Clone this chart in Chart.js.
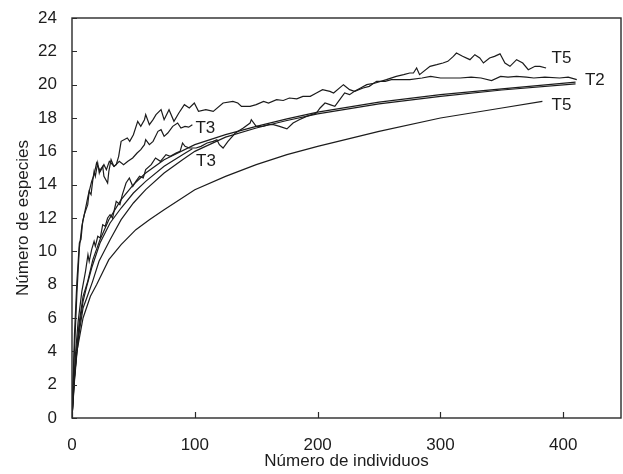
<!DOCTYPE html>
<html>
<head>
<meta charset="utf-8">
<script src="https://cdn.jsdelivr.net/npm/chart.js@4.4.1/dist/chart.umd.min.js"></script>
<style>
  html, body { margin: 0; padding: 0; background: #fff; }
  #wrap { width: 623px; height: 474px; position: relative; }
</style>
</head>
<body>
<div id="wrap"><canvas id="rarefactionChart"></canvas></div>
<script>
// Species accumulation curves (observed = jagged, expected = smooth)
// Each series is a list of [individuals, species] pairs read off the figure

const xTicks = [0, 100, 200, 300, 400];
const yTicks = [0, 2, 4, 6, 8, 10, 12, 14, 16, 18, 20, 22, 24];

// T5 observed (top jagged line)
const t5Observed = [
  [0,0],[1,2.5],[2,5],[4,8.2],[6,10.5],[7.3,10.7],[8.7,11.8],[10,12.2],[12.8,12.8],[14,13.6],
  [15.5,13.4],[16.8,14.2],[18,14.8],[19,14.5],[20.9,15.3],[22.2,14.7],[23,14.9],[25,15.1],[26,14.5],
  [29,14.1],[30,14.8],[31.8,15.5],[34,15.1],[36,15.2],[38,15.7],[40,16.6],[45,16.8],[47,16.6],
  [50,17.0],[53.5,17.8],[56,17.5],[59,17.9],[60,18.2],[63,17.6],[66,17.9],[68.4,18.2],[72.5,18.5],
  [75,17.9],[79,18.5],[83,17.8],[87,18.3],[91.5,18.8],[95.5,18.6],[99.6,18.9],[103,18.4],[109,18.5],
  [115,18.4],[123,18.9],[131,19.0],[135,18.9],[138,18.7],[145,18.7],[150,18.8],[156,19.0],[160,18.9],
  [166.6,19.1],[172,19.05],[177,19.2],[183,19.15],[188,19.3],[194,19.3],[199,19.5],[204,19.7],
  [210,19.6],[213,19.5],[221,20.0],[226,19.7],[230,19.6],[235,19.8],[240,20.0],[247,20.1],[256,20.3],
  [264,20.5],[270,20.6],[275,20.7],[278,20.7],[280.6,21.0],[283,20.6],[291.5,21.1],[297,21.2],
  [302,21.3],[306,21.4],[310.5,21.7],[313,21.9],[318,21.7],[324,21.5],[328,21.8],[332,21.6],
  [335,21.3],[340,21.6],[344,21.7],[348.5,21.85],[352.5,21.3],[356.6,21.1],[362,21.5],[367,21.3],
  [371.5,20.9],[377,21.1],[381,21.1],[386,21.0]
];

// T3 observed (ends near 100 individuals)
const t3Observed = [
  [0,0],[1,2.2],[2,4],[4,7.5],[6,10.2],[8,11.5],[10,12.2],[13,13.3],[16,14.2],[18,14.6],[20,15.3],
  [23,14.8],[26,15.2],[28,14.9],[30.4,15.4],[34.4,15.1],[38.5,15.4],[42,15.2],[45.5,15.4],[49.4,15.6],
  [53,15.9],[56,16.1],[59,16.4],[60,16.7],[63,16.4],[66,16.6],[70,17.2],[72.5,17.3],[75,16.9],
  [78,17.1],[82,17.5],[86,17.7],[88.7,17.4],[92,17.5],[95,17.45],[98,17.6]
];

// T2 observed (flattens near 20.3)
const t2Observed = [
  [0,0],[1,1.5],[2,2.8],[3,4.0],[5,5.8],[8,7.6],[11,8.8],[13,9.8],[14,9.4],[16,10.1],[18,10.6],
  [19,10.3],[21,10.9],[23,10.8],[25,11.6],[27,11.5],[29,12.0],[31,12.2],[33,12.0],[36,13.0],[39,12.8],
  [41,13.4],[44,14.1],[46.7,14.4],[49.5,13.9],[52,14.2],[55,14.5],[58,14.4],[60,14.9],[64.5,15.2],
  [68,15.6],[72,15.4],[76.5,15.8],[80,15.7],[84.7,15.9],[88,16.0],[90,16.5],[92,16.3],[95.5,16.2],
  [101,16.2],[105,16.3],[110,16.5],[115,16.6],[118,16.7],[120,16.4],[123,16.2],[127,16.6],[133,17.1],
  [139.5,17.4],[145,17.7],[146,17.9],[150,17.5],[155,17.5],[160,17.6],[164,17.6],[169,17.5],
  [175,17.35],[180,17.7],[185,17.9],[191,18.1],[199,18.3],[202,18.6],[206,18.9],[210,18.8],[214,18.7],
  [218,19.1],[222,19.5],[226,19.4],[230,19.6],[237,19.8],[242,19.9],[248,20.2],[255,20.2],[260,20.3],
  [267,20.3],[275,20.3],[285,20.4],[292,20.5],[300,20.4],[310,20.4],[316,20.4],[325,20.45],[333,20.4],
  [341.6,20.25],[349,20.5],[355,20.45],[362,20.5],[370,20.45],[376,20.4],[385,20.45],[397,20.4],
  [404,20.45],[411,20.3]
];

// Expected (smooth) curves
const t2ExpectedA = [
  [0,0],[1,1.3],[2,2.5],[4,4.3],[6,5.8],[9,7.3],[12.8,8.2],[17,9.5],[22.8,10.7],[30,11.9],[40,13.1],
  [50,14.0],[60,14.7],[75,15.5],[100,16.4],[125,17.0],[150,17.5],[175,17.95],[200,18.35],[250,18.95],
  [300,19.4],[350,19.75],[410,20.15]
];
const t2ExpectedB = [
  [0,0],[1,1.1],[2,2.2],[4,3.9],[6,5.2],[9,6.6],[12,7.2],[16.8,8.2],[22,9.4],[31,10.7],[40,11.9],
  [50,12.9],[60,13.7],[75,14.7],[90,15.5],[100,16.0],[125,16.85],[150,17.4],[175,17.85],[200,18.25],
  [250,18.85],[300,19.3],[350,19.68],[410,20.05]
];
const t3Expected = [
  [0,0],[1,1.2],[2,2.35],[4,4.1],[6,5.5],[9,7.0],[12,7.9],[16,9.0],[22.8,10.5],[31,11.7],[40,12.6],
  [50,13.5],[60,14.2],[75,15.1],[90,15.8],[98,16.15]
];
const t5Expected = [
  [0,0],[1,1.5],[2,2.5],[4,4],[9,6],[15,7.3],[20,8],[30,9.5],[40,10.4],[52,11.3],[63,11.9],[75,12.5],
  [100,13.7],[125,14.5],[150,15.2],[175,15.8],[200,16.3],[250,17.2],[300,18.0],[350,18.6],[383,19.0]
];

// Curve labels: text, x, y (data units)
const curveLabelText = ['T5', 'T2', 'T5', 'T3', 'T3'];
const curveLabelX = [390.5, 417.6, 390.5, 100.5, 101];
const curveLabelY = [21.6, 20.25, 18.75, 17.4, 15.4];

const INK = '#1c1c1c';
const FONT = '"Liberation Sans", Arial, Helvetica, sans-serif';

function toPoints(pairs) {
  return pairs.map(p => ({ x: p[0], y: p[1] }));
}

function lineSet(label, pairs) {
  return {
    label: label,
    data: toPoints(pairs),
    showLine: true,
    borderColor: INK,
    borderWidth: 1.2,
    pointRadius: 0,
    tension: 0,
    fill: false
  };
}

// Frame, inward tick marks and curve labels
const frameTicks = {
  id: 'frameTicks',
  afterDraw(chart) {
    const { ctx, chartArea: a, scales } = chart;
    ctx.save();
    ctx.strokeStyle = '#2a2a2a';
    ctx.lineWidth = 1.4;
    ctx.strokeRect(a.left, a.top, a.right - a.left, a.bottom - a.top);

    ctx.lineWidth = 1.2;
    ctx.beginPath();
    xTicks.forEach(v => {
      const px = Math.round(scales.x.getPixelForValue(v)) + 0.5;
      ctx.moveTo(px, a.bottom);
      ctx.lineTo(px, a.bottom - 6);
    });
    yTicks.forEach(v => {
      const py = Math.round(scales.y.getPixelForValue(v)) + 0.5;
      ctx.moveTo(a.left, py);
      ctx.lineTo(a.left + 5, py);
    });
    ctx.stroke();

    ctx.fillStyle = INK;
    ctx.font = '17px ' + FONT;
    ctx.textAlign = 'left';
    ctx.textBaseline = 'middle';
    curveLabelText.forEach((t, i) => {
      ctx.fillText(t, scales.x.getPixelForValue(curveLabelX[i]), scales.y.getPixelForValue(curveLabelY[i]));
    });
    ctx.restore();
  }
};

window.initializeCharts = function() {
  const ctx = document.getElementById('rarefactionChart');
  if (!ctx) return;

  const config = {
    type: 'scatter',
    data: {
      datasets: [
        lineSet('T5 observado', t5Observed),
        lineSet('T3 observado', t3Observed),
        lineSet('T2 observado', t2Observed),
        lineSet('T2 esperado A', t2ExpectedA),
        lineSet('T2 esperado B', t2ExpectedB),
        lineSet('T3 esperado', t3Expected),
        lineSet('T5 esperado', t5Expected)
      ]
    },
    options: {
      responsive: true,
      maintainAspectRatio: false,
      animation: false,
      layout: { padding: { top: 18, right: 2, left: 0, bottom: 0 } },
      plugins: {
        legend: { display: false },
        tooltip: { enabled: false }
      },
      scales: {
        x: {
          type: 'linear',
          min: 0,
          max: 447,
          afterFit: s => { s.height = 56; },
          afterBuildTicks: s => { s.ticks = xTicks.map(v => ({ value: v })); },
          grid: { display: false },
          border: { display: false },
          ticks: {
            padding: 9,
            color: INK,
            font: { family: FONT, size: 17 },
            maxRotation: 0
          },
          title: {
            display: true,
            text: 'Número de individuos',
            color: INK,
            font: { family: FONT, size: 17 },
            padding: { top: 0, bottom: 2 }
          }
        },
        y: {
          type: 'linear',
          min: 0,
          max: 24,
          afterFit: s => { s.width = 72; },
          afterBuildTicks: s => { s.ticks = yTicks.map(v => ({ value: v })); },
          grid: { display: false },
          border: { display: false },
          ticks: {
            padding: 7,
            color: INK,
            font: { family: FONT, size: 17 }
          },
          title: {
            display: true,
            text: 'Número de especies',
            color: INK,
            font: { family: FONT, size: 17 },
            padding: { top: 13, bottom: 0 }
          }
        }
      }
    },
    plugins: [frameTicks]
  };

  try {
    if (window.Chart) {
      new Chart(ctx, config);
    } else {
      console.warn('Chart.js not loaded');
    }
  } catch (error) {
    console.error('Error creating chart:', error);
  }
};

window.initializeCharts();
</script>
</body>
</html>
